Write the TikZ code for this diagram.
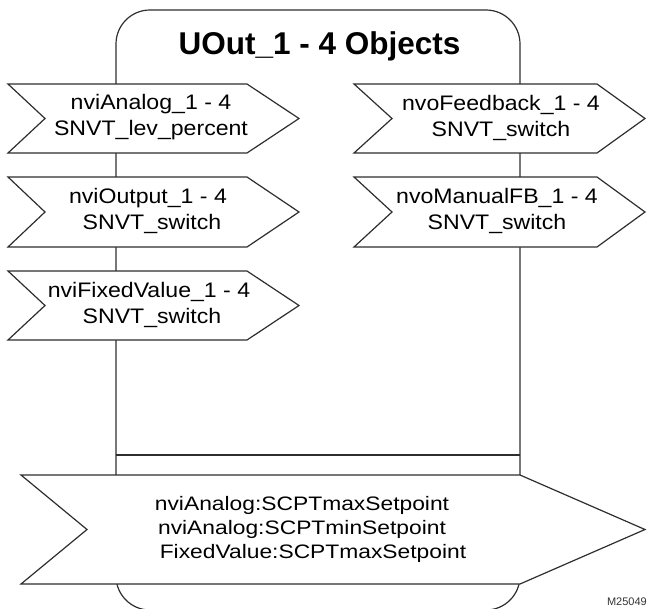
\documentclass[tikz,border=0pt]{standalone}
\usepackage{fontspec}
\setmainfont{Liberation Sans}
\newfontfamily\sigfont{Liberation Sans}[FakeStretch=1.1]
\newfontfamily\cfgfont{Liberation Sans}[FakeStretch=1.17]
\definecolor{linec}{HTML}{2E2E2E}
\begin{document}
\begin{tikzpicture}[x=1pt,y=-1pt,
  outline/.style={draw=linec,line width=1.2pt,line join=miter},
  sigshape/.style={outline,fill=white},
  sigtext/.style={align=center,inner sep=0pt,font=\sigfont\fontsize{21}{26}\selectfont,text=black},
  cfgtext/.style={align=center,inner sep=0pt,font=\cfgfont\fontsize{19.5}{24}\selectfont,text=black},
  titletext/.style={inner sep=0pt,font=\fontsize{31.5}{36}\selectfont\bfseries,text=black},
  tagtext/.style={inner sep=0pt,font=\fontsize{11}{13}\selectfont,text=black!80}]
\useasboundingbox (0,0) rectangle (648,608);
% object box
\draw[outline,rounded corners=34pt] (116,10) rectangle (520,610);
\coordinate (sepL) at (116,455);
\coordinate (sepR) at (520,455);
\draw[outline] (sepL) -- (sepR);
% title
\node[titletext] (title) at (319.5,46) {UOut\_1 - 4 Objects};
% input shapes
\foreach \t/\b in {84/153,177/247,271/340}{
  \draw[sigshape] (8,\t) -- (247,\t) -- (299,{(\t+\b)/2}) -- (247,\b) -- (8,\b) -- (45,{(\t+\b)/2}) -- cycle;
}
% output shapes
\foreach \t/\b in {84/153,177/247}{
  \draw[sigshape] (354,\t) -- (597,\t) -- (645,{(\t+\b)/2}) -- (597,\b) -- (354,\b) -- (392,{(\t+\b)/2}) -- cycle;
}
% configuration shape
\draw[sigshape] (21,475) -- (520,475) -- (645,529.5) -- (520,584) -- (21,584) -- (87,529.5) -- cycle;
% texts
\node[sigtext] (inA) at (151,117.5) {nviAnalog\_1 - 4\\SNVT\_lev\_percent};
\node[sigtext] (inO) at (148,211) {nviOutput\_1 - 4\\\hspace*{8pt}SNVT\_switch};
\node[sigtext] (inF) at (149,304.5) {nviFixedValue\_1 - 4\\\hspace*{6pt}SNVT\_switch};
\node[sigtext] (outF) at (501,117.5) {nvoFeedback\_1 - 4\\SNVT\_switch};
\node[sigtext] (outM) at (497,211) {nvoManualFB\_1 - 4\\SNVT\_switch};
\node[cfgtext] (cfg) at (302,529) {nviAnalog:SCPTmaxSetpoint\\nviAnalog:SCPTminSetpoint\\\hspace*{22pt}FixedValue:SCPTmaxSetpoint};
\node[tagtext,anchor=base east] (tag) at (647,605) {M25049};
\end{tikzpicture}
\end{document}
